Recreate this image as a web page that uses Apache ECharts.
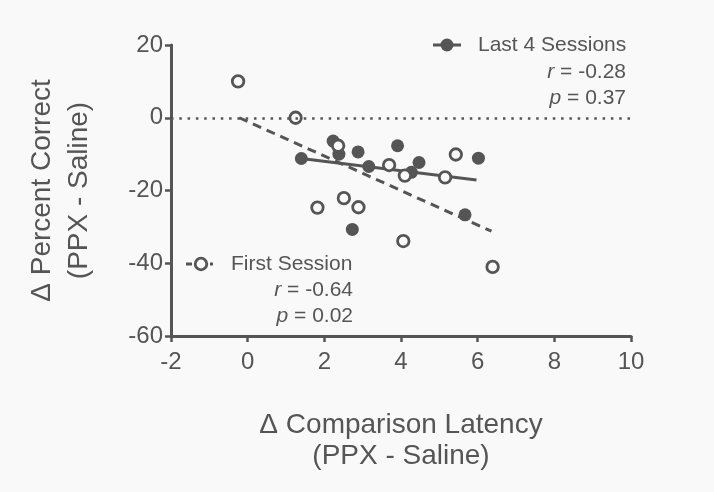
<!DOCTYPE html>
<html><head><meta charset="utf-8">
<script src="https://cdn.jsdelivr.net/npm/echarts@6/dist/echarts.min.js"></script>
<style>html,body{margin:0;padding:0;background:#f9f9f9}#c{width:714px;height:492px}</style>
</head><body><div id="c"></div>
<script>
// Data
const firstSession = [[-0.25,10],[1.25,0],[2.36,-7.7],[1.82,-24.7],[2.51,-22.1],[2.89,-24.6],[3.69,-13.0],[4.10,-15.9],[5.43,-10.1],[5.15,-16.4],[4.06,-33.9],[6.39,-41.0]];
const last4Sessions = [[1.40,-11.2],[2.23,-6.4],[2.38,-10.0],[2.88,-9.4],[3.16,-13.4],[3.91,-7.7],[4.47,-12.3],[4.27,-15.0],[6.02,-11.1],[5.67,-26.7],[2.73,-30.7]];
const firstFit = [[-0.22,0],[6.36,-31.2]];
const last4Fit = [[1.40,-11.2],[5.97,-17.1]];
const xRange = [-2, 10, 2];
const yRange = [-60, 20, 20];
const firstStats = {name:'First Session', r:'-0.64', p:'0.02'};
const last4Stats = {name:'Last 4 Sessions', r:'-0.28', p:'0.37'};

const C = '#555';
const TXT = '#555';
const FONT = '"Liberation Sans", Arial, sans-serif';
const LF = 21;
const chart = echarts.init(document.getElementById('c'));
const rich = {i:{fontStyle:'italic', fontSize:LF, fontFamily:FONT, fill:TXT}};
function txt(x,y,text,align){
  return {type:'text', x:x, y:y, z:100, style:{text:text, fontSize:LF, fontFamily:FONT, fill:TXT, align:align||'left', verticalAlign:'middle', rich:rich}};
}
chart.setOption({
  backgroundColor:'#f9f9f9',
  animation:false,
  grid:{left:171, top:45, width:460, height:291, containLabel:false, outerBoundsMode:'none'},
  xAxis:{type:'value', min:xRange[0], max:xRange[1], interval:xRange[2],
    splitLine:{show:false},
    axisLine:{show:true, onZero:false, lineStyle:{color:C, width:3}},
    axisTick:{show:true, length:6, lineStyle:{color:C, width:2.5}},
    axisLabel:{fontSize:24, fontFamily:FONT, color:TXT, margin:14},
    name:'Δ Comparison Latency\n(PPX - Saline)', nameLocation:'middle', nameGap:74, nameMoveOverlap:false,
    nameTextStyle:{fontSize:28, lineHeight:31, fontFamily:FONT, color:TXT}
  },
  yAxis:{type:'value', min:yRange[0], max:yRange[1], interval:yRange[2],
    splitLine:{show:false},
    axisLine:{show:true, onZero:false, lineStyle:{color:C, width:3}},
    axisTick:{show:true, length:6, lineStyle:{color:C, width:2.5}},
    axisLabel:{fontSize:24, fontFamily:FONT, color:TXT, margin:8},
    name:'Δ Percent Correct\n(PPX - Saline)', nameLocation:'middle', nameRotate:90, nameGap:73, nameMoveOverlap:false,
    nameTextStyle:{fontSize:28, lineHeight:37, fontFamily:FONT, color:TXT}
  },
  series:[
    {type:'line', data:firstFit, symbol:'none', z:2, lineStyle:{color:C, width:3, type:[9,6]},
      markLine:{silent:true, symbol:'none', label:{show:false}, lineStyle:{color:C, width:2.5, type:[2.5,5.8]}, data:[{yAxis:0}]}},
    {type:'line', data:last4Fit, symbol:'none', z:2, lineStyle:{color:C, width:3}},
    {type:'scatter', name:last4Stats.name, data:last4Sessions, symbol:'circle', symbolSize:13, z:3, itemStyle:{color:C, opacity:1}},
    {type:'scatter', name:firstStats.name, data:firstSession, symbol:'circle', symbolSize:11.5, z:4, itemStyle:{color:'#f9f9f9', borderColor:C, borderWidth:2.8, opacity:1}}
  ],
  graphic:[
    {type:'line', shape:{x1:433,y1:45,x2:461,y2:45}, style:{stroke:C, lineWidth:3}},
    {type:'circle', shape:{cx:447,cy:45,r:6.5}, style:{fill:C}},
    txt(478,45,last4Stats.name),
    txt(626,72,'{i|r} = '+last4Stats.r,'right'),
    txt(626,98,'{i|p} = '+last4Stats.p,'right'),
    {type:'line', shape:{x1:186,y1:264,x2:192,y2:264}, style:{stroke:C, lineWidth:3}},
    {type:'circle', shape:{cx:201,cy:264,r:5.8}, style:{fill:'#f9f9f9', stroke:C, lineWidth:2.8}},
    {type:'line', shape:{x1:210,y1:264,x2:213,y2:264}, style:{stroke:C, lineWidth:3}},
    txt(231,264,firstStats.name),
    txt(353,290,'{i|r} = '+firstStats.r,'right'),
    txt(353,316,'{i|p} = '+firstStats.p,'right')
  ]
});
</script></body></html>
